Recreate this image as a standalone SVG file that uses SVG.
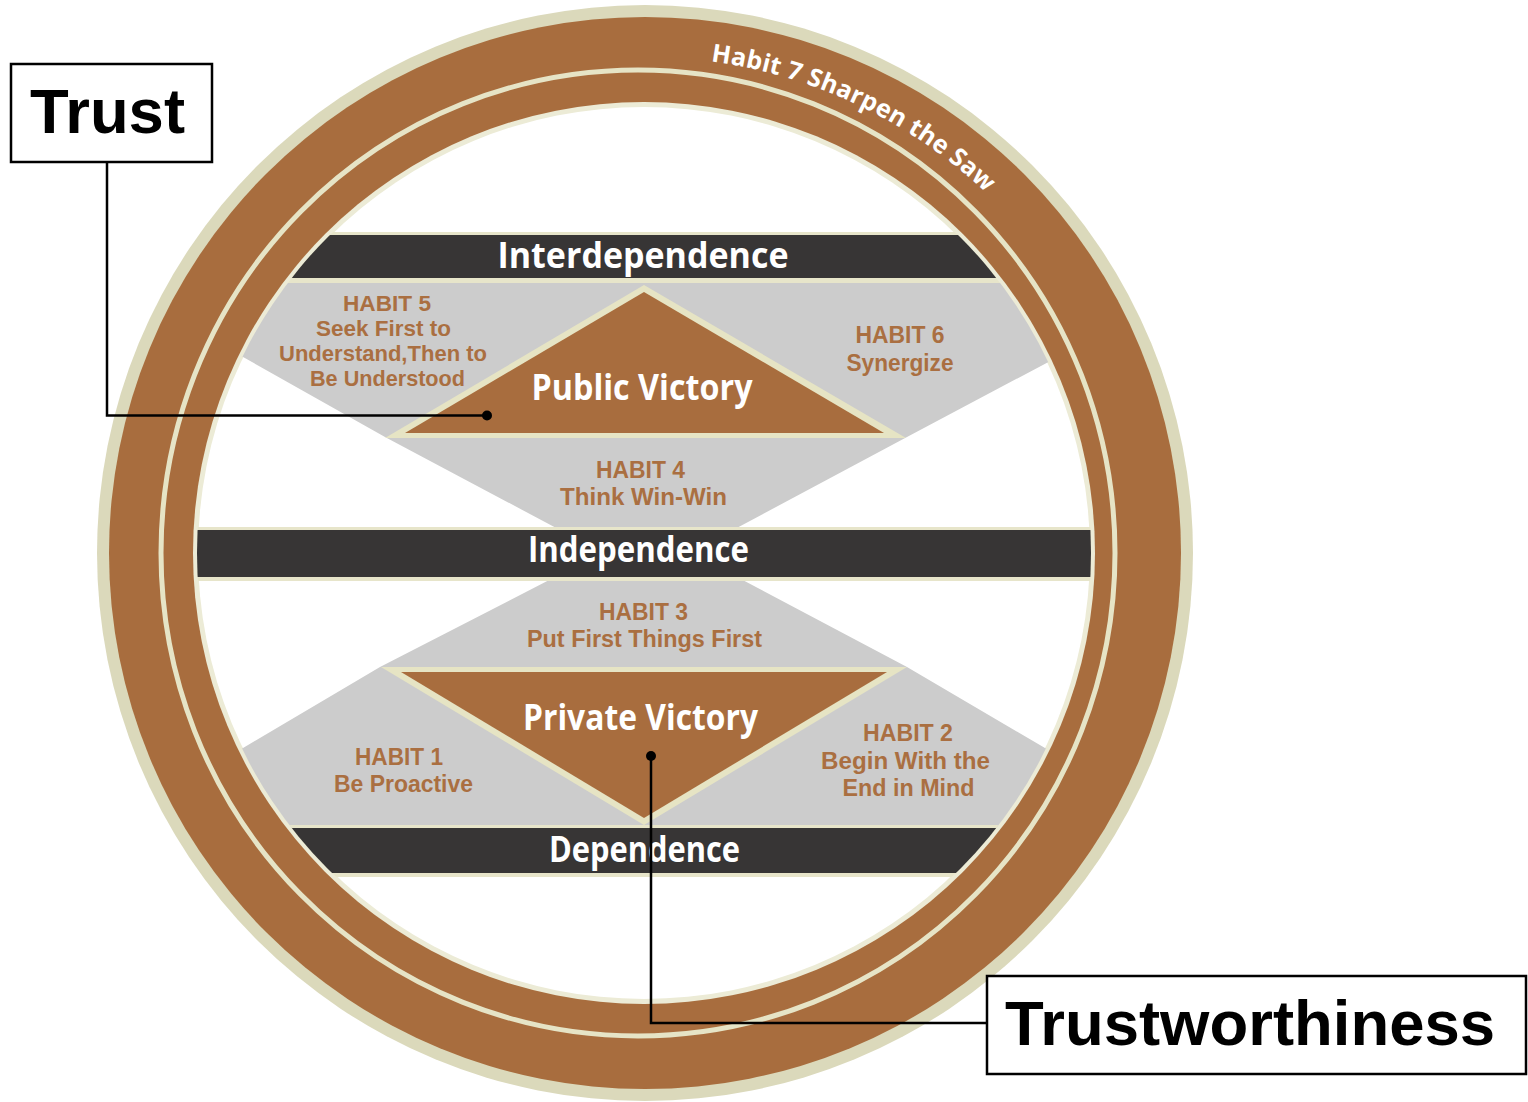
<svg xmlns="http://www.w3.org/2000/svg" width="1528" height="1102" viewBox="0 0 1528 1102">
  <defs>
    <style>
      .sans { font-family: "Open Sans", "Noto Sans", "DejaVu Sans", sans-serif; font-weight: 700; }
      .band { fill: #373535; }
      .cream { fill: #e7e5ca; }
      .grey { fill: #cccccc; }
      .tri-edge { fill: #e6e4c4; }
      .tri-fill { fill: #a86d3e; }
      .band-text { fill: #ffffff; font-size: 35px; text-anchor: middle; }
      .victory { fill: #ffffff; font-size: 35px; text-anchor: middle; }
      .habit { font-family: "Liberation Sans", Arial, sans-serif; font-weight: 700; fill: #aa6f41; font-size: 23.5px; text-anchor: middle; }
      .habit-tight { font-size: 22px; }
      .saw { fill: #ffffff; font-size: 25px; }
      .label { font-family: "Liberation Sans", Arial, sans-serif; font-weight: 700; font-size: 63px; fill: #000000; }
      .box { fill: #ffffff; stroke: #000000; stroke-width: 2.5; }
      .conn { fill: none; stroke: #000000; stroke-width: 2.5; }
    </style>
    <clipPath id="innerDisc">
      <circle cx="644" cy="553" r="447"/>
    </clipPath>
    <path id="sawArc" d="M 645,57 A 496 496 0 0 1 1141,553"/>
  </defs>

  <rect width="1528" height="1102" fill="#ffffff"/>

  <!-- Outer ring: Habit 7 -->
  <g id="ring-habit7">
    <circle cx="645" cy="553" r="548" fill="#dbd9bb"/>
    <circle cx="645" cy="553" r="536" fill="#a86d3e"/>
    <ellipse cx="638" cy="553" rx="477" ry="483" fill="none" stroke="#e6e4c6" stroke-width="5"/>
    <circle cx="644" cy="553" r="451" fill="#ecebd6"/>
    <circle cx="644" cy="553" r="446" fill="#ffffff"/>
    <text class="sans saw"><textPath href="#sawArc" startOffset="66" textLength="310" lengthAdjust="spacing">Habit 7 Sharpen the Saw</textPath></text>
  </g>

  <g clip-path="url(#innerDisc)">
    <!-- grey hourglass fields -->
    <g id="field-upper">
      <polygon class="grey" points="140,283 1150,283 1150,308 907,437 733,530 560,530 385,437 140,299"/>
    </g>
    <g id="field-lower">
      <polygon class="grey" points="555,577 737,577 907,667 1045,748 1150,810 1150,830 140,830 140,808 243,748 380,667"/>
    </g>

    <!-- level bands -->
    <g id="band-interdependence">
      <rect class="cream" x="150" y="232" width="1000" height="51"/>
      <rect class="band" x="150" y="235" width="1000" height="43"/>
      <text class="sans band-text" x="643" y="268" textLength="291" lengthAdjust="spacingAndGlyphs">Interdependence</text>
    </g>
    <g id="band-independence">
      <rect class="cream" x="150" y="527" width="1000" height="54"/>
      <rect class="band" x="150" y="530" width="1000" height="47"/>
      <text class="sans band-text" x="638.5" y="562" font-size="33" textLength="221" lengthAdjust="spacingAndGlyphs">Independence</text>
    </g>
    <g id="band-dependence">
      <rect class="cream" x="150" y="825" width="1000" height="52"/>
      <rect class="band" x="150" y="828" width="1000" height="45"/>
      <text class="sans band-text" x="644.5" y="862" textLength="191" lengthAdjust="spacingAndGlyphs">Dependence</text>
    </g>
  </g>

  <!-- victories -->
  <g id="public-victory">
    <polygon class="tri-edge" points="644,285 385,438 906,438"/>
    <polygon class="tri-fill" points="644,292 405,433 884,433"/>
    <text class="sans victory" x="642" y="400" textLength="221" lengthAdjust="spacingAndGlyphs">Public Victory</text>
  </g>
  <g id="private-victory">
    <polygon class="tri-edge" points="381,667 907,667 644,825"/>
    <polygon class="tri-fill" points="401,672 887,672 644,818"/>
    <text class="sans victory" x="640.5" y="730" textLength="235" lengthAdjust="spacingAndGlyphs">Private Victory</text>
  </g>

  <!-- habits -->
  <g id="habit-5" class="habit habit-tight">
    <text x="387" y="311" textLength="88" lengthAdjust="spacingAndGlyphs">HABIT 5</text>
    <text x="383.5" y="336" textLength="135" lengthAdjust="spacingAndGlyphs">Seek First to</text>
    <text x="383" y="361" textLength="208" lengthAdjust="spacingAndGlyphs">Understand,Then to</text>
    <text x="387.5" y="386" textLength="155" lengthAdjust="spacingAndGlyphs">Be Understood</text>
  </g>
  <g id="habit-6" class="habit">
    <text x="900" y="342.5" textLength="89" lengthAdjust="spacingAndGlyphs">HABIT 6</text>
    <text x="900" y="371" textLength="107" lengthAdjust="spacingAndGlyphs">Synergize</text>
  </g>
  <g id="habit-4" class="habit">
    <text x="640.5" y="478" textLength="89" lengthAdjust="spacingAndGlyphs">HABIT 4</text>
    <text x="643.5" y="505" textLength="167" lengthAdjust="spacingAndGlyphs">Think Win-Win</text>
  </g>
  <g id="habit-3" class="habit">
    <text x="643.5" y="620" textLength="89" lengthAdjust="spacingAndGlyphs">HABIT 3</text>
    <text x="644.5" y="647" textLength="235" lengthAdjust="spacingAndGlyphs">Put First Things First</text>
  </g>
  <g id="habit-1" class="habit">
    <text x="399" y="764.5" textLength="88" lengthAdjust="spacingAndGlyphs">HABIT 1</text>
    <text x="403.5" y="791.5" textLength="139" lengthAdjust="spacingAndGlyphs">Be Proactive</text>
  </g>
  <g id="habit-2" class="habit">
    <text x="908" y="741" textLength="90" lengthAdjust="spacingAndGlyphs">HABIT 2</text>
    <text x="905.5" y="768.5" textLength="169" lengthAdjust="spacingAndGlyphs">Begin With the</text>
    <text x="908.5" y="796" textLength="132" lengthAdjust="spacingAndGlyphs">End in Mind</text>
  </g>

  <!-- callout boxes -->
  <g id="trust">
    <rect class="box" x="11" y="64" width="201" height="98"/>
    <text class="label" x="30" y="133" textLength="155" lengthAdjust="spacingAndGlyphs">Trust</text>
  </g>
  <g id="trustworthiness">
    <rect class="box" x="987" y="976" width="539" height="98"/>
    <text class="label" x="1005" y="1045" textLength="490" lengthAdjust="spacingAndGlyphs">Trustworthiness</text>
  </g>

  <!-- leader lines -->
  <g id="connectors">
    <polyline class="conn" points="107,162 107,415.5 487,415.5"/>
    <circle cx="487" cy="415.5" r="5" fill="#000000"/>
    <polyline class="conn" points="651,756 651,1023 987,1023"/>
    <circle cx="651" cy="756" r="5" fill="#000000"/>
  </g>
</svg>
